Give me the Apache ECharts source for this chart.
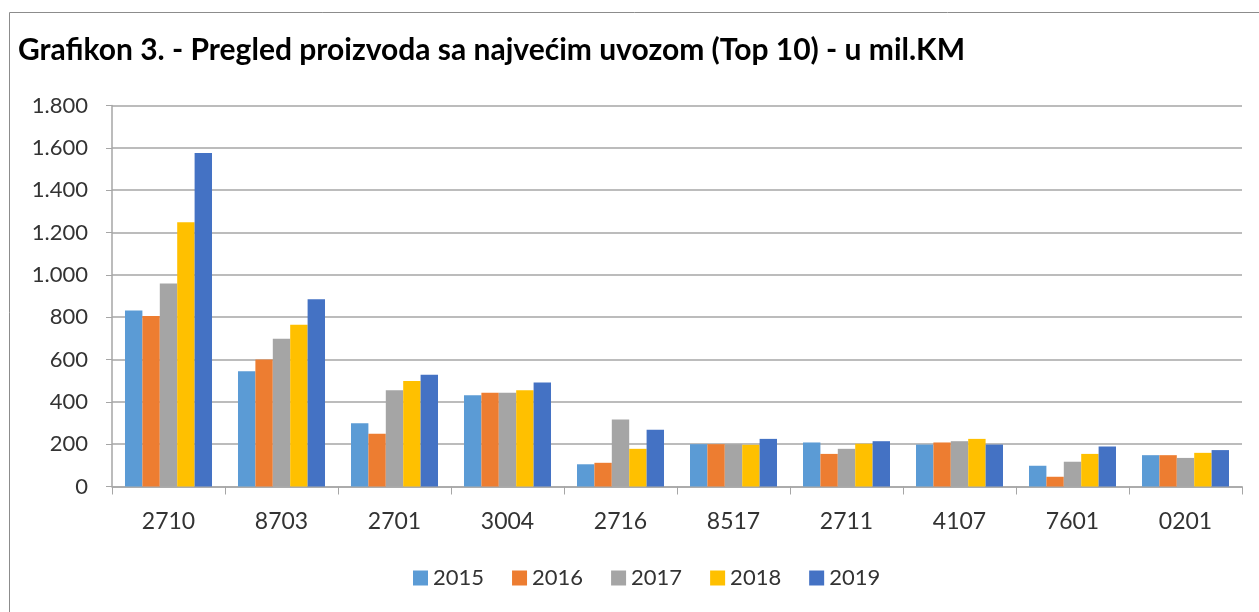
<!DOCTYPE html>
<html><head><meta charset="utf-8">
<script src="https://cdn.jsdelivr.net/npm/echarts@6/dist/echarts.min.js"></script>
<style>html,body{margin:0;padding:0;background:#fff}#c{width:1259px;height:612px}</style>
</head><body><div id="c"></div>
<script>
const categories = ['2710','8703','2701','3004','2716','8517','2711','4107','7601','0201'];
const years = ['2015','2016','2017','2018','2019'];
const v2015 = [831,545,299,431,105,200,208,198,98,148];
const v2016 = [806,600,249,443,112,200,154,208,46,148];
const v2017 = [959,698,455,443,317,200,178,214,117,135];
const v2018 = [1249,764,498,455,178,197,202,225,154,159];
const v2019 = [1576,885,528,491,268,225,214,198,189,172];
const yTicks = [0,200,400,600,800,1000,1200,1400,1600,1800];
const colors = ['#5B9BD5','#ED7D31','#A5A5A5','#FFC000','#4472C4'];
const seriesValues = [v2015,v2016,v2017,v2018,v2019];

const font = 'Lato, "Open Sans", sans-serif';
const chart = echarts.init(document.getElementById('c'));
chart.setOption({
  animation:false,
  color: colors,
  title:{text:'Grafikon 3. - Pregled proizvoda sa najvećim uvozom (Top 10) - u mil.KM',left:13,top:30,
    textStyle:{fontFamily:font,fontWeight:'bold',fontSize:30,color:'#000'}},
  graphic:[{type:'rect',shape:{x:9.5,y:12.5,width:1400,height:800},style:{fill:null,stroke:'#8c8c8c',lineWidth:1},silent:true}],
  grid:{left:112,right:17,top:105.5,bottom:125.5,containLabel:false},
  legend:{bottom:18,left:408,itemWidth:15,itemHeight:15,itemGap:28,icon:'rect',
    textStyle:{fontFamily:font,fontSize:22,color:'#333'},data:years},
  xAxis:{type:'category',data:categories,
    axisLine:{lineStyle:{color:'#A6A6A6',width:1.5}},
    axisTick:{show:true,length:8,lineStyle:{color:'#A6A6A6'}},
    axisLabel:{fontFamily:font,fontSize:23,color:'#333',margin:24}},
  yAxis:{type:'value',min:yTicks[0],max:yTicks[yTicks.length-1],interval:200,
    axisLine:{show:true,lineStyle:{color:'#A6A6A6',width:1.5}},
    axisTick:{show:true,length:6,lineStyle:{color:'#A6A6A6'}},
    splitLine:{lineStyle:{color:'#A6A6A6',width:1.5}},
    axisLabel:{fontFamily:font,fontSize:22,color:'#333',margin:24,
      formatter:v=>String(v).replace(/\B(?=(\d{3})+(?!\d))/g,'.')}},
  series: years.map((y,i)=>({name:y,type:'bar',data:seriesValues[i],barGap:'0%',barCategoryGap:'23%',
    itemStyle:{color:colors[i]}}))
});
</script></body></html>
